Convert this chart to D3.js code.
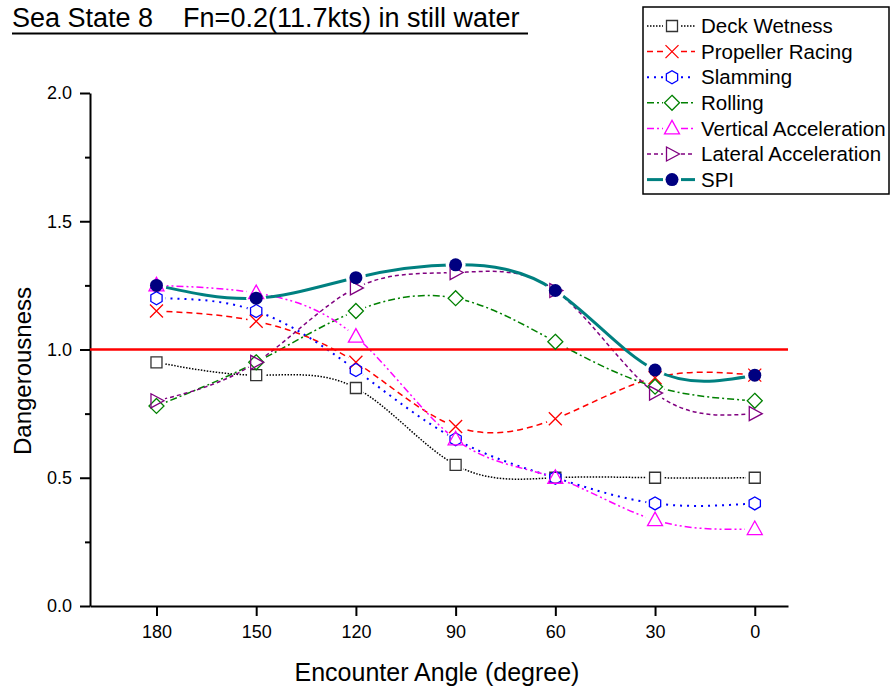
<!DOCTYPE html>
<html>
<head>
<meta charset="utf-8">
<script src="https://cdn.jsdelivr.net/npm/d3@7"></script>
<style>
  body { margin: 0; background: #fff; }
  svg { font-family: Arial, "Liberation Sans", sans-serif; }
</style>
</head>
<body>
<div id="chart"></div>
<script>
// data
let angles = [180, 150, 120, 90, 60, 30, 0];
let deckWetness = [0.95, 0.90, 0.85, 0.55, 0.50, 0.50, 0.50];
let propellerRacing = [1.15, 1.11, 0.95, 0.70, 0.73, 0.89, 0.90];
let slamming = [1.20, 1.15, 0.92, 0.65, 0.50, 0.40, 0.40];
let rolling = [0.78, 0.95, 1.15, 1.20, 1.03, 0.855, 0.80];
let verticalAcc = [1.25, 1.22, 1.05, 0.65, 0.50, 0.335, 0.30];
let lateralAcc = [0.80, 0.95, 1.24, 1.30, 1.23, 0.83, 0.75];
let spi = [1.25, 1.20, 1.28, 1.33, 1.23, 0.92, 0.90];
let seriesNames = ["Deck Wetness", "Propeller Racing", "Slamming", "Rolling",
                   "Vertical Acceleration", "Lateral Acceleration", "SPI"];
let yTicks = [0, 0.5, 1.0, 1.5, 2.0];
let yMinorTicks = [0.25, 0.75, 1.25, 1.75];
let threshold = 1.0;

let W = 891, H = 687;

let svg = d3.select("#chart")
    .append("svg")
    .attr("width", W)
    .attr("height", H);

let x = d3.scaleLinear().domain([200, -10]).range([90, 788]);
let y = d3.scaleLinear().domain([0, 2]).range([606, 93]);

// styles per series
let styles = [
    { color: "#000000", mark: "#333333", dash: "1.5,1.5", width: 1.5, symbol: "square", gap: 9 },
    { color: "#ff0000", mark: "#ff0000", dash: "6,4", width: 1.5, symbol: "cross", gap: 9 },
    { color: "#0000ff", mark: "#0000ff", dash: "2,5", width: 2, symbol: "hexagon", gap: 9 },
    { color: "#008000", mark: "#008000", dash: "7,3,2,3", width: 1.5, symbol: "diamond", gap: 10 },
    { color: "#ff00ff", mark: "#ff00ff", dash: "7,3,2,3,2,3", width: 1.5, symbol: "triangle", gap: 10 },
    { color: "#800080", mark: "#800080", dash: "4,3", width: 1.5, symbol: "right", gap: 9 },
    { color: "#008080", mark: "#000080", dash: null, width: 3, symbol: "circle", gap: 10 }
];

let allValues = [deckWetness, propellerRacing, slamming, rolling, verticalAcc, lateralAcc, spi];
let dataObj = seriesNames.map(function (name, i) {
    return {
        name: name,
        style: styles[i],
        points: angles.map(function (a, j) { return { angle: a, value: allValues[i][j] }; })
    };
});

function markerPath(type) {
    if (type == "square") return "M-5.5,-5.5H5.5V5.5H-5.5Z";
    if (type == "cross") return "M-6.5,-6.5L6.5,6.5M-6.5,6.5L6.5,-6.5";
    if (type == "hexagon") {
        let p = [];
        for (let k = 0; k < 6; k++) {
            let t = Math.PI / 6 + k * Math.PI / 3;
            p.push([6.5 * Math.cos(t), 6.5 * Math.sin(t)]);
        }
        return "M" + p.map(function (d) { return d[0].toFixed(2) + "," + d[1].toFixed(2); }).join("L") + "Z";
    }
    if (type == "diamond") return "M0,-7.5L7.5,0L0,7.5L-7.5,0Z";
    if (type == "triangle") return "M0,-8L7.5,5.5H-7.5Z";
    if (type == "right") return "M-5.5,-7L7.5,0L-5.5,7Z";
    return "";
}

// axes
svg.append("g")
    .attr("transform", "translate(90,0)")
    .call(d3.axisLeft(y).tickValues(yTicks).tickSize(10).tickSizeOuter(0)
        .tickPadding(8).tickFormat(d3.format(".1f")));
svg.append("g")
    .attr("transform", "translate(90,0)")
    .call(d3.axisLeft(y).tickValues(yMinorTicks).tickSize(5).tickSizeOuter(0).tickFormat(""))
    .select(".domain").remove();

svg.append("g")
    .attr("transform", "translate(0,606)")
    .call(d3.axisBottom(x).tickValues(angles).tickSize(10).tickSizeOuter(0)
        .tickPadding(9).tickFormat(d3.format("d")));

svg.selectAll(".domain").attr("stroke", "#000").attr("stroke-width", 2);
svg.selectAll(".tick line").attr("stroke", "#000").attr("stroke-width", 2);
svg.selectAll(".tick text").attr("font-size", 18).attr("fill", "#000")
    .attr("font-family", "Arial, 'Liberation Sans', sans-serif");

// axis titles
svg.append("text")
    .attr("x", 437)
    .attr("y", 681)
    .attr("text-anchor", "middle")
    .attr("font-size", 25)
    .text("Encounter Angle (degree)");

svg.append("text")
    .attr("transform", "translate(31,371)rotate(-90)")
    .attr("text-anchor", "middle")
    .attr("font-size", 24)
    .text("Dangerousness");

// title with underline
svg.append("text")
    .attr("x", 12)
    .attr("y", 27)
    .attr("font-size", 27)
    .style("white-space", "pre")
    .text("Sea State 8    Fn=0.2(11.7kts) in still water");
svg.append("line")
    .attr("x1", 12).attr("x2", 528)
    .attr("y1", 33.5).attr("y2", 33.5)
    .attr("stroke", "#000").attr("stroke-width", 2);

// gaps round the markers, like the original
let defs = svg.append("defs");
dataObj.forEach(function (s, i) {
    let m = defs.append("mask")
        .attr("id", "gap" + i)
        .attr("maskUnits", "userSpaceOnUse")
        .attr("x", 0).attr("y", 0).attr("width", W).attr("height", H);
    m.append("rect").attr("width", W).attr("height", H).attr("fill", "#fff");
    m.selectAll("circle")
        .data(s.points)
        .enter()
        .append("circle")
        .attr("cx", function (d) { return x(d.angle); })
        .attr("cy", function (d) { return y(d.value); })
        .attr("r", s.style.gap)
        .attr("fill", "#000");
});

let line = d3.line()
    .x(function (d) { return x(d.angle); })
    .y(function (d) { return y(d.value); })
    .curve(d3.curveNatural);

// curves
dataObj.forEach(function (s, i) {
    if (i == 6) return;
    svg.append("path")
        .datum(s.points)
        .attr("d", line)
        .attr("fill", "none")
        .attr("stroke", s.style.color)
        .attr("stroke-width", s.style.width)
        .attr("stroke-dasharray", s.style.dash)
        .attr("mask", "url(#gap" + i + ")");
});

// threshold line
svg.append("line")
    .attr("x1", x(200)).attr("x2", x(-10))
    .attr("y1", y(threshold)).attr("y2", y(threshold))
    .attr("stroke", "#ff0000")
    .attr("stroke-width", 2.5);

// markers
dataObj.forEach(function (s, i) {
    if (i == 6) return;
    svg.selectAll("mark" + i)
        .data(s.points)
        .enter()
        .append("path")
        .attr("transform", function (d) { return "translate(" + x(d.angle) + "," + y(d.value) + ")"; })
        .attr("d", markerPath(s.style.symbol))
        .attr("fill", "none")
        .attr("stroke", s.style.mark)
        .attr("stroke-width", 1.3);
});

// SPI on top
let spiObj = dataObj[6];
svg.append("path")
    .datum(spiObj.points)
    .attr("d", line)
    .attr("fill", "none")
    .attr("stroke", spiObj.style.color)
    .attr("stroke-width", 3)
    .attr("mask", "url(#gap6)");
svg.selectAll("spicircle")
    .data(spiObj.points)
    .enter()
    .append("circle")
    .attr("cx", function (d) { return x(d.angle); })
    .attr("cy", function (d) { return y(d.value); })
    .attr("r", 6.5)
    .attr("fill", spiObj.style.mark);

// legend
let legend = svg.append("g");
legend.append("rect")
    .attr("x", 643).attr("y", 7)
    .attr("width", 246).attr("height", 187)
    .attr("fill", "#fff")
    .attr("stroke", "#000")
    .attr("stroke-width", 1.5);

dataObj.forEach(function (s, i) {
    let ly = 26 + i * 25.6;
    let g = legend.append("g");
    g.append("line")
        .attr("x1", 647).attr("x2", 663)
        .attr("y1", ly).attr("y2", ly);
    g.append("line")
        .attr("x1", 681).attr("x2", 695)
        .attr("y1", ly).attr("y2", ly);
    g.selectAll("line")
        .attr("stroke", s.style.color)
        .attr("stroke-width", s.style.width)
        .attr("stroke-dasharray", s.style.dash);
    if (s.style.symbol == "circle") {
        g.append("circle")
            .attr("cx", 672).attr("cy", ly).attr("r", 6.5)
            .attr("fill", s.style.mark);
    } else {
        g.append("path")
            .attr("transform", "translate(672," + ly + ")")
            .attr("d", markerPath(s.style.symbol))
            .attr("fill", "none")
            .attr("stroke", s.style.mark)
            .attr("stroke-width", 1.3);
    }
    g.append("text")
        .attr("x", 701)
        .attr("y", ly)
        .attr("dy", "0.35em")
        .attr("font-size", 20.5)
        .attr("fill", "#000")
        .text(s.name);
});
</script>
</body>
</html>
